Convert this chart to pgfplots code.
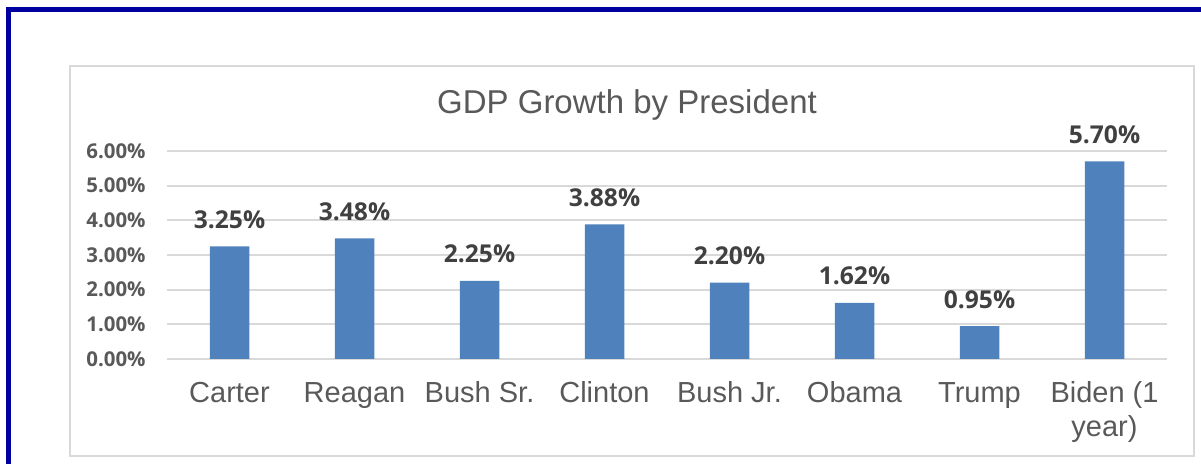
\documentclass[border=0pt]{standalone}
\usepackage{pgfplots}
\pgfplotsset{compat=1.18}
\usepackage{fontspec}
\setmainfont{Liberation Sans}
\newfontfamily\tickfont{Open Sans}
\definecolor{barblue}{HTML}{4F81BD}
\definecolor{gridgray}{HTML}{D9D9D9}
\definecolor{txtgray}{HTML}{595959}
\definecolor{lblgray}{HTML}{404040}
\definecolor{frameblue}{HTML}{0000A0}
\pgfkeys{/pgf/number format/assume math mode=true}
\begin{document}
\begin{tikzpicture}
\useasboundingbox (0,0) rectangle (600.5pt,232pt);
\begin{scope}
\clip (0,0) rectangle (600.5pt,232pt);
\draw[frameblue, line width=2.5pt] (4.25pt,-20pt) rectangle (640pt,227.25pt);
\end{scope}
\draw[gridgray, line width=1pt] (34.75pt,4pt) rectangle (596.75pt,199pt);
\node[anchor=base, inner sep=0pt, text=txtgray, font=\fontsize{16.5}{19}\selectfont] at (313.5pt,175pt) {GDP Growth by President};
\begin{axis}[
  at={(83.5pt,52.5pt)}, anchor=south west,
  scale only axis, width=500pt, height=104pt,
  xmin=-0.5, xmax=7.5, ymin=0, ymax=6,
  axis line style={draw=none},
  major tick length=0pt,
  ymajorgrids, grid style={gridgray, line width=1pt},
  ytick={0,1,2,3,4,5,6},
  yticklabels={0.00\%,1.00\%,2.00\%,3.00\%,4.00\%,5.00\%,6.00\%},
  yticklabel style={anchor=east, inner sep=0pt, xshift=-10.5pt, text=txtgray, font=\tickfont\bfseries\fontsize{10.2}{12}\selectfont},
  xtick=data,
  xticklabels={Carter,Reagan,Bush Sr.,Clinton,Bush Jr.,Obama,Trump,{\begin{tabular}[t]{@{}c@{}}Biden (1\\year)\end{tabular}}},
  xticklabel style={anchor=base, yshift=-22pt, inner sep=0pt, text=txtgray, font=\fontsize{14.5}{17}\selectfont},
  nodes near coords={\pgfmathprintnumber[fixed,fixed zerofill,precision=2,assume math mode=true]{\pgfplotspointmeta}\%},
  nodes near coords style={anchor=base, yshift=9pt, inner sep=0pt, text=lblgray, font=\tickfont\bfseries\fontsize{12.3}{14}\selectfont},
  clip=false,
]
\addplot[ybar, bar width=19.75pt, fill=barblue, draw=none] coordinates {
(0,3.25) (1,3.48) (2,2.25) (3,3.88) (4,2.20) (5,1.62) (6,0.95) (7,5.70)
};
\end{axis}
\end{tikzpicture}
\end{document}
